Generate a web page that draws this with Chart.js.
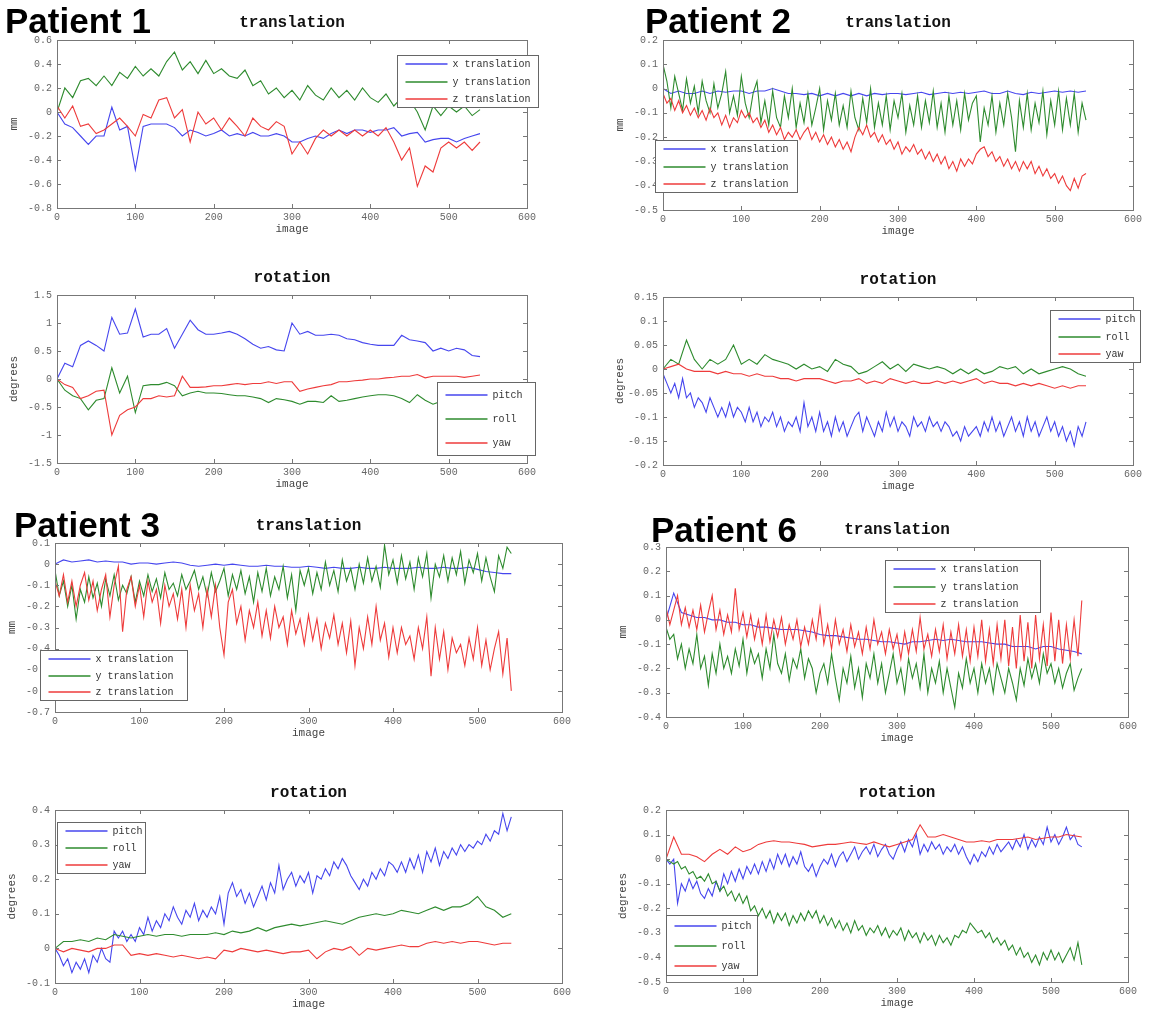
<!DOCTYPE html>
<html lang="en">
<head>
<meta charset="UTF-8" />
<title>Head motion per patient</title>
<script src="https://cdn.jsdelivr.net/npm/chart.js"></script>
<style>
  body { margin: 0; background: #fff; width: 1166px; height: 1014px; position: relative; overflow: hidden; font-family: 'Liberation Sans', Arial, sans-serif; }
  .panel { position: absolute; }
  .patient { position: absolute; font-weight: bold; font-size: 35px; line-height: 35px; color: #000; z-index: 2; white-space: nowrap; }
</style>
</head>
<body>
<div class="patient" style="left:5px;top:3px">Patient 1</div>
<div class="patient" style="left:645px;top:3px">Patient 2</div>
<div class="patient" style="left:14px;top:507px">Patient 3</div>
<div class="patient" style="left:651px;top:512px">Patient 6</div>

<script>
// image index (x axis): every 10 images for the smoother traces, every 5 for the noisy ones
const imageIdx = [0,10,20,30,40,50,60,70,80,90,100,110,120,130,140,150,160,170,180,190,
  200,210,220,230,240,250,260,270,280,290,300,310,320,330,340,350,360,370,380,390,
  400,410,420,430,440,450,460,470,480,490,500,510,520,530,540];
const imageIdx5 = [0,5,10,15,20,25,30,35,40,45,50,55,60,65,70,75,80,85,90,95,
  100,105,110,115,120,125,130,135,140,145,150,155,160,165,170,175,180,185,190,195,
  200,205,210,215,220,225,230,235,240,245,250,255,260,265,270,275,280,285,290,295,
  300,305,310,315,320,325,330,335,340,345,350,355,360,365,370,375,380,385,390,395,
  400,405,410,415,420,425,430,435,440,445,450,455,460,465,470,475,480,485,490,495,
  500,505,510,515,520,525,530,535,540];
const xTicks = [0,100,200,300,400,500,600];
const transLabels = ['x translation','y translation','z translation'];
const rotLabels = ['pitch','roll','yaw'];
const lineColors = ['#4646ee','#2e8b2e','#ee3b3b'];

// ---- Patient 1 ----
const p1TransTicks = [-0.8,-0.6,-0.4,-0.2,0,0.2,0.4,0.6];
const p1TransX = [0,-0.1,-0.13,-0.2,-0.27,-0.2,-0.2,0.04,-0.15,-0.12,
  -0.48,-0.12,-0.1,-0.1,-0.1,-0.13,-0.2,-0.15,-0.17,-0.2,
  -0.18,-0.15,-0.2,-0.18,-0.2,-0.17,-0.2,-0.2,-0.18,-0.2,
  -0.25,-0.25,-0.22,-0.2,-0.22,-0.18,-0.15,-0.18,-0.15,-0.15,
  -0.17,-0.15,-0.15,-0.13,-0.2,-0.18,-0.17,-0.25,-0.23,-0.22,
  -0.22,-0.25,-0.22,-0.2,-0.18];
const p1TransY = [0,0.2,0.12,0.26,0.28,0.22,0.3,0.22,0.33,0.28,
  0.38,0.3,0.36,0.3,0.42,0.5,0.35,0.42,0.32,0.43,
  0.32,0.36,0.3,0.28,0.35,0.22,0.26,0.15,0.2,0.12,
  0.18,0.1,0.22,0.14,0.1,0.2,0.12,0.18,0.1,0.2,
  0.12,0.08,0.15,0.05,0.12,0.1,0,-0.15,0.05,-0.03,
  0.05,0,0.05,-0.03,0.02];
const p1TransZ = [0.05,-0.05,0.05,-0.12,-0.1,-0.18,-0.15,-0.1,-0.05,-0.12,
  -0.2,-0.02,-0.05,0.1,0.12,-0.05,0.02,-0.25,0,-0.1,
  -0.05,-0.15,-0.05,-0.12,-0.2,-0.05,-0.12,-0.15,-0.08,-0.12,
  -0.35,-0.25,-0.35,-0.22,-0.15,-0.2,-0.15,-0.2,-0.15,-0.2,
  -0.15,-0.2,-0.13,-0.25,-0.4,-0.3,-0.62,-0.45,-0.5,-0.3,
  -0.25,-0.3,-0.25,-0.32,-0.25];
const p1RotTicks = [-1.5,-1,-0.5,0,0.5,1,1.5];
const p1Pitch = [0,0.28,0.22,0.6,0.68,0.6,0.5,1.1,0.8,0.82,
  1.25,0.75,0.8,0.8,0.9,0.55,0.8,1.05,0.88,0.8,
  0.8,0.82,0.85,0.8,0.72,0.62,0.55,0.58,0.52,0.5,
  1.0,0.8,0.85,0.78,0.78,0.8,0.78,0.72,0.7,0.65,
  0.62,0.6,0.6,0.6,0.78,0.7,0.68,0.65,0.5,0.55,
  0.5,0.55,0.52,0.42,0.4];
const p1Roll = [0,-0.2,-0.3,-0.35,-0.55,-0.38,-0.35,0.2,-0.25,0.05,
  -0.6,-0.12,-0.1,-0.1,-0.06,-0.12,-0.3,-0.25,-0.22,-0.25,
  -0.25,-0.26,-0.28,-0.3,-0.3,-0.32,-0.35,-0.42,-0.35,-0.37,
  -0.4,-0.45,-0.4,-0.4,-0.42,-0.3,-0.4,-0.38,-0.35,-0.32,
  -0.3,-0.28,-0.28,-0.3,-0.35,-0.42,-0.28,-0.38,-0.45,-0.4,
  -0.4,-0.42,-0.4,-0.4,-0.4];
const p1Yaw = [0,-0.1,-0.15,-0.35,-0.3,-0.22,-0.2,-1.0,-0.65,-0.55,
  -0.5,-0.35,-0.35,-0.3,-0.32,-0.3,0.05,-0.15,-0.15,-0.14,
  -0.12,-0.12,-0.1,-0.08,-0.1,-0.08,-0.08,-0.05,-0.08,-0.05,
  -0.05,-0.22,-0.18,-0.15,-0.12,-0.1,-0.05,-0.05,-0.03,-0.02,
  0,0,0.02,0.03,0.05,0.05,0.08,0.02,0.05,0.05,
  0.05,0.05,0.03,0.05,0.07];

// ---- Patient 2 ----
const p2TransTicks = [-0.5,-0.4,-0.3,-0.2,-0.1,0,0.1,0.2];
const p2TransX = [0,-0.02,-0.01,-0.02,-0.02,-0.01,-0.02,-0.01,-0.015,-0.01,
  -0.01,-0.02,-0.01,-0.01,0,-0.01,-0.02,-0.02,-0.025,-0.02,
  -0.03,-0.02,-0.03,-0.02,-0.03,-0.02,-0.03,-0.02,-0.025,-0.02,
  -0.02,-0.025,-0.02,-0.015,-0.025,-0.02,-0.015,-0.02,-0.015,-0.02,
  -0.015,-0.01,-0.02,-0.02,-0.01,-0.02,-0.025,-0.015,-0.02,-0.015,
  -0.01,-0.015,-0.01,-0.015,-0.01];
const p2TransY = [0.1,0.03,-0.08,0.05,-0.02,-0.09,0.04,-0.06,0.01,-0.1,
  0.03,-0.05,-0.1,0.02,-0.08,-0.02,0.07,-0.1,-0.03,-0.11,
  0.05,-0.06,-0.12,-0.02,0.03,-0.14,-0.05,-0.15,-0.01,-0.12,
  -0.16,-0.03,-0.12,0,-0.16,-0.06,-0.14,-0.02,-0.15,-0.08,
  0,-0.17,-0.05,-0.13,-0.02,-0.15,-0.07,-0.16,-0.01,-0.12,
  -0.17,-0.04,-0.14,0,-0.16,-0.06,-0.15,-0.03,-0.17,-0.05,
  -0.12,-0.02,-0.18,-0.07,-0.15,-0.03,-0.16,-0.05,-0.14,-0.01,
  -0.16,-0.06,-0.18,-0.03,-0.15,-0.05,-0.17,-0.02,-0.13,-0.06,
  -0.03,-0.22,-0.08,-0.15,-0.03,-0.18,-0.06,-0.15,-0.02,-0.12,
  -0.26,-0.05,-0.16,-0.02,-0.17,-0.06,-0.14,-0.01,-0.19,-0.05,
  -0.15,-0.01,-0.17,-0.04,-0.15,-0.02,-0.18,-0.06,-0.13];
const p2TransZ = [-0.02,-0.06,-0.04,-0.09,-0.05,-0.1,-0.07,-0.11,-0.08,-0.12,
  -0.09,-0.13,-0.08,-0.12,-0.1,-0.15,-0.11,-0.16,-0.12,-0.14,
  -0.09,-0.12,-0.1,-0.14,-0.12,-0.16,-0.13,-0.18,-0.15,-0.19,
  -0.16,-0.21,-0.18,-0.2,-0.17,-0.21,-0.18,-0.16,-0.21,-0.18,
  -0.22,-0.19,-0.23,-0.2,-0.24,-0.21,-0.25,-0.22,-0.26,-0.2,
  -0.16,-0.19,-0.15,-0.2,-0.18,-0.22,-0.19,-0.23,-0.21,-0.25,
  -0.22,-0.27,-0.24,-0.26,-0.23,-0.27,-0.25,-0.29,-0.26,-0.3,
  -0.27,-0.31,-0.28,-0.33,-0.3,-0.34,-0.29,-0.32,-0.29,-0.31,
  -0.27,-0.25,-0.24,-0.28,-0.26,-0.3,-0.28,-0.32,-0.29,-0.33,
  -0.3,-0.34,-0.3,-0.33,-0.3,-0.35,-0.32,-0.36,-0.33,-0.37,
  -0.35,-0.39,-0.36,-0.4,-0.42,-0.37,-0.41,-0.36,-0.35];
const p2RotTicks = [-0.2,-0.15,-0.1,-0.05,0,0.05,0.1,0.15];
const p2Pitch = [-0.01,-0.03,-0.05,-0.03,-0.06,-0.02,-0.06,-0.05,-0.08,-0.06,
  -0.07,-0.09,-0.06,-0.08,-0.1,-0.08,-0.1,-0.07,-0.1,-0.08,
  -0.09,-0.11,-0.08,-0.11,-0.09,-0.12,-0.1,-0.11,-0.09,-0.12,
  -0.1,-0.13,-0.11,-0.12,-0.1,-0.13,-0.07,-0.12,-0.1,-0.13,
  -0.09,-0.13,-0.11,-0.14,-0.1,-0.13,-0.11,-0.14,-0.12,-0.1,
  -0.09,-0.13,-0.1,-0.12,-0.14,-0.11,-0.13,-0.09,-0.12,-0.1,
  -0.13,-0.11,-0.12,-0.14,-0.1,-0.12,-0.11,-0.13,-0.1,-0.12,
  -0.11,-0.13,-0.11,-0.12,-0.14,-0.13,-0.15,-0.12,-0.14,-0.13,
  -0.12,-0.14,-0.11,-0.13,-0.1,-0.13,-0.11,-0.14,-0.12,-0.1,
  -0.13,-0.11,-0.14,-0.1,-0.13,-0.11,-0.14,-0.12,-0.1,-0.13,
  -0.11,-0.14,-0.12,-0.15,-0.13,-0.16,-0.12,-0.14,-0.11];
const p2Roll = [0,0.02,0.01,0.06,0.02,0,0.02,0.01,0.02,0.05,
  0.01,0.02,0.01,0.03,0.02,0.015,0.01,0,0.01,0,
  0.005,-0.005,0.02,0.01,0.005,-0.01,-0.005,0.005,0.015,0,
  0.01,-0.005,0.01,0.005,0,0.005,0,-0.01,0,-0.01,
  0,-0.01,-0.005,0.005,0,0.005,-0.01,0,-0.01,-0.005,
  0,0.005,0,-0.01,-0.015];
const p2Yaw = [0,0.005,0.01,0,-0.005,-0.005,-0.005,-0.01,-0.005,-0.01,
  -0.01,-0.015,-0.01,-0.015,-0.015,-0.02,-0.02,-0.025,-0.02,-0.02,
  -0.02,-0.025,-0.03,-0.025,-0.025,-0.02,-0.03,-0.025,-0.03,-0.02,
  -0.025,-0.03,-0.025,-0.03,-0.03,-0.025,-0.03,-0.025,-0.03,-0.025,
  -0.02,-0.03,-0.025,-0.03,-0.03,-0.035,-0.03,-0.035,-0.03,-0.035,
  -0.04,-0.035,-0.04,-0.035,-0.035];

// ---- Patient 3 ----
const p3TransTicks = [-0.7,-0.6,-0.5,-0.4,-0.3,-0.2,-0.1,0,0.1];
const p3TransX = [0,0.02,0.01,0.015,0.02,0.01,0.015,0.01,0.01,0,
  0.005,0.005,0,0.005,0.01,0.005,-0.005,-0.01,-0.005,0,
  -0.005,0,-0.005,-0.01,-0.01,-0.005,-0.01,-0.01,-0.015,-0.015,
  -0.01,-0.015,-0.02,-0.015,-0.02,-0.02,-0.015,-0.02,-0.02,-0.015,
  -0.02,-0.02,-0.02,-0.015,-0.02,-0.02,-0.015,-0.02,-0.02,-0.015,
  -0.025,-0.035,-0.04,-0.045,-0.045];
const p3TransY = [-0.03,-0.15,-0.08,-0.2,-0.1,-0.26,-0.12,-0.18,-0.06,-0.16,
  -0.09,-0.2,-0.07,-0.15,-0.05,-0.17,-0.1,-0.14,-0.06,-0.18,
  -0.08,-0.15,-0.05,-0.13,-0.07,-0.16,-0.04,-0.12,-0.09,-0.15,
  -0.05,-0.12,-0.08,-0.03,-0.12,-0.06,-0.15,-0.04,-0.13,-0.08,
  -0.02,-0.15,-0.05,-0.12,-0.03,-0.14,-0.06,-0.18,-0.04,-0.13,
  -0.02,-0.15,-0.06,-0.12,-0.01,-0.16,-0.05,-0.22,-0.03,-0.1,
  -0.02,-0.14,-0.04,-0.12,0.01,-0.1,-0.03,-0.13,0.02,-0.08,
  -0.02,-0.12,0,-0.09,0.03,-0.08,-0.01,-0.11,0.09,-0.05,
  0.02,-0.09,0.04,-0.07,0.01,-0.12,0.03,-0.06,0.05,-0.16,
  0,-0.06,0.04,-0.08,0.03,-0.05,0.06,-0.09,0.02,-0.04,
  0.05,-0.08,0.03,-0.06,-0.13,0.04,-0.02,0.08,0.05];
const p3TransZ = [-0.08,-0.15,-0.05,-0.18,-0.08,-0.2,-0.1,-0.04,-0.17,-0.08,
  -0.22,-0.12,-0.05,-0.25,-0.1,-0.01,-0.32,-0.12,-0.06,-0.2,
  -0.1,-0.25,-0.08,-0.18,-0.12,-0.28,-0.1,-0.2,-0.14,-0.26,
  -0.12,-0.3,-0.1,-0.22,-0.14,-0.3,-0.12,-0.25,-0.1,-0.3,
  -0.43,-0.18,-0.12,-0.28,-0.2,-0.36,-0.22,-0.3,-0.18,-0.34,
  -0.22,-0.35,-0.2,-0.3,-0.25,-0.38,-0.22,-0.33,-0.26,-0.38,
  -0.24,-0.36,-0.26,-0.4,-0.28,-0.35,-0.24,-0.38,-0.28,-0.42,
  -0.27,-0.48,-0.3,-0.4,-0.25,-0.38,-0.2,-0.36,-0.28,-0.44,
  -0.3,-0.42,-0.3,-0.38,-0.34,-0.45,-0.3,-0.4,-0.25,-0.53,
  -0.3,-0.45,-0.32,-0.5,-0.35,-0.42,-0.38,-0.48,-0.35,-0.45,
  -0.3,-0.48,-0.36,-0.5,-0.4,-0.32,-0.52,-0.35,-0.6];
const p3RotTicks = [-0.1,0,0.1,0.2,0.3,0.4];
const p3Pitch = [0,-0.02,-0.05,-0.03,-0.07,-0.04,-0.06,-0.03,-0.07,-0.02,
  -0.04,0,-0.03,-0.04,0.05,0.03,0.05,0.02,0.04,0.02,
  0.06,0.04,0.09,0.05,0.08,0.06,0.1,0.08,0.12,0.09,
  0.07,0.11,0.09,0.13,0.08,0.11,0.09,0.12,0.1,0.15,
  0.07,0.16,0.19,0.15,0.17,0.13,0.16,0.12,0.15,0.18,
  0.14,0.19,0.16,0.24,0.17,0.2,0.22,0.18,0.21,0.19,
  0.22,0.16,0.21,0.2,0.23,0.21,0.25,0.23,0.26,0.24,
  0.21,0.19,0.17,0.2,0.18,0.22,0.2,0.23,0.21,0.25,
  0.24,0.22,0.25,0.22,0.26,0.23,0.27,0.22,0.28,0.25,
  0.29,0.24,0.28,0.26,0.29,0.27,0.3,0.28,0.3,0.29,
  0.31,0.3,0.33,0.31,0.34,0.33,0.39,0.34,0.38];
const p3Roll = [0,0.02,0.02,0.025,0.02,0.03,0.025,0.04,0.035,0.03,
  0.035,0.04,0.035,0.04,0.04,0.035,0.04,0.04,0.04,0.045,
  0.04,0.05,0.045,0.05,0.06,0.05,0.06,0.065,0.07,0.065,
  0.07,0.075,0.08,0.075,0.07,0.08,0.09,0.095,0.1,0.095,
  0.1,0.11,0.105,0.1,0.11,0.12,0.11,0.12,0.12,0.13,
  0.15,0.12,0.11,0.09,0.1];
const p3Yaw = [0,-0.01,0,-0.005,-0.01,0,0,0.01,0.01,-0.02,
  -0.015,-0.02,-0.015,-0.02,-0.025,-0.02,-0.025,-0.03,-0.025,-0.03,
  -0.005,-0.01,0,-0.005,-0.01,-0.005,-0.01,-0.015,-0.01,-0.01,
  -0.005,-0.03,-0.01,0,-0.005,0.005,-0.02,0,-0.005,0,
  0.005,0.01,0.005,0.005,0.015,0.02,0.015,0.02,0.015,0.02,
  0.02,0.015,0.01,0.015,0.015];

// ---- Patient 6 ----
const p6TransTicks = [-0.4,-0.3,-0.2,-0.1,0,0.1,0.2,0.3];
const p6TransX = [0,0.11,0.03,0.02,0.01,0.01,0,0,-0.01,-0.01,
  -0.02,-0.02,-0.03,-0.03,-0.035,-0.04,-0.04,-0.04,-0.045,-0.05,
  -0.06,-0.065,-0.065,-0.07,-0.075,-0.08,-0.08,-0.085,-0.09,-0.09,
  -0.095,-0.1,-0.09,-0.09,-0.085,-0.08,-0.085,-0.08,-0.085,-0.09,
  -0.09,-0.09,-0.095,-0.1,-0.1,-0.11,-0.11,-0.11,-0.12,-0.11,
  -0.11,-0.12,-0.125,-0.13,-0.14];
const p6TransY = [-0.03,-0.08,-0.06,-0.16,-0.1,-0.2,-0.12,-0.18,-0.06,-0.2,
  -0.15,-0.27,-0.14,-0.22,-0.1,-0.2,-0.15,-0.22,-0.12,-0.19,
  -0.08,-0.22,-0.12,-0.18,-0.14,-0.24,-0.12,-0.2,-0.06,-0.18,
  -0.22,-0.14,-0.25,-0.16,-0.2,-0.12,-0.24,-0.16,-0.2,-0.3,
  -0.22,-0.18,-0.26,-0.14,-0.24,-0.33,-0.2,-0.26,-0.15,-0.28,
  -0.2,-0.32,-0.18,-0.24,-0.14,-0.26,-0.18,-0.3,-0.22,-0.14,
  -0.26,-0.2,-0.3,-0.16,-0.24,-0.18,-0.28,-0.14,-0.3,-0.2,
  -0.26,-0.17,-0.3,-0.2,-0.28,-0.36,-0.22,-0.28,-0.16,-0.26,
  -0.2,-0.3,-0.18,-0.26,-0.2,-0.3,-0.18,-0.24,-0.3,-0.2,
  -0.26,-0.33,-0.2,-0.27,-0.16,-0.24,-0.18,-0.26,-0.14,-0.22,
  -0.18,-0.26,-0.2,-0.28,-0.22,-0.18,-0.29,-0.24,-0.2];
const p6TransZ = [0.05,-0.02,0.04,0.1,-0.02,0.05,-0.03,0.04,-0.04,0.06,
  -0.05,0.03,0.1,-0.04,0.04,-0.06,0.02,-0.05,0.13,-0.04,
  0.03,-0.07,0.02,-0.08,0,-0.1,0.02,-0.09,0,-0.07,
  0.01,-0.1,-0.02,-0.08,0,-0.11,-0.03,-0.1,0,-0.08,
  0.05,-0.1,-0.02,-0.12,0,-0.1,-0.04,-0.13,-0.02,-0.11,
  -0.05,-0.14,-0.03,-0.12,0,-0.1,-0.05,-0.14,-0.04,-0.12,
  -0.06,-0.16,-0.05,-0.14,-0.04,-0.13,0.01,-0.12,-0.06,-0.15,
  -0.04,-0.13,-0.02,-0.16,-0.05,-0.14,-0.02,-0.15,-0.04,-0.17,
  -0.03,-0.15,0,-0.17,-0.04,-0.18,-0.02,-0.16,0,-0.19,
  -0.03,-0.2,0.02,-0.17,-0.01,-0.2,0.02,-0.16,-0.02,-0.19,
  0.03,-0.17,0,-0.18,-0.02,-0.16,0,-0.15,0.08];
const p6RotTicks = [-0.5,-0.4,-0.3,-0.2,-0.1,0,0.1,0.2];
const p6Pitch = [0,-0.02,0,-0.18,-0.1,-0.13,-0.08,-0.12,-0.09,-0.14,
  -0.16,-0.12,-0.15,-0.09,-0.13,-0.06,-0.1,-0.05,-0.09,-0.04,
  -0.08,-0.03,-0.06,-0.02,-0.06,-0.01,-0.05,0,-0.04,0.02,
  -0.02,0.02,-0.03,0.01,-0.02,0.03,-0.03,-0.05,-0.02,-0.07,
  -0.03,0,-0.02,0.02,-0.03,0.01,0.03,-0.01,0.02,0.05,
  0,0.03,0.05,0.02,0.06,0.01,0.04,0.06,0.02,0,
  0.04,0.07,0.03,0.08,0.05,0.1,0.02,0.06,0.03,0.07,
  0.04,0.06,0.02,0.05,0.03,0.06,0.02,0.05,0.01,-0.02,
  0.02,-0.01,0.03,0.01,0.05,0.02,0.06,0.03,0.05,0.07,
  0.04,0.08,0.05,0.1,0.04,0.08,0.05,0.09,0.06,0.13,
  0.07,0.1,0.06,0.09,0.13,0.08,0.1,0.06,0.05];
const p6Roll = [0,-0.01,-0.02,-0.01,-0.04,-0.03,-0.06,-0.05,-0.08,-0.07,
  -0.09,-0.06,-0.1,-0.09,-0.13,-0.11,-0.15,-0.13,-0.17,-0.14,
  -0.18,-0.15,-0.21,-0.19,-0.23,-0.2,-0.24,-0.21,-0.26,-0.22,
  -0.25,-0.22,-0.27,-0.23,-0.26,-0.22,-0.25,-0.21,-0.24,-0.21,
  -0.26,-0.23,-0.27,-0.24,-0.28,-0.25,-0.29,-0.26,-0.3,-0.25,
  -0.29,-0.27,-0.31,-0.28,-0.3,-0.27,-0.31,-0.28,-0.32,-0.29,
  -0.31,-0.28,-0.33,-0.29,-0.32,-0.3,-0.34,-0.3,-0.33,-0.31,
  -0.35,-0.31,-0.34,-0.32,-0.35,-0.31,-0.32,-0.29,-0.3,-0.26,
  -0.28,-0.3,-0.29,-0.32,-0.3,-0.34,-0.32,-0.35,-0.33,-0.37,
  -0.35,-0.39,-0.36,-0.4,-0.38,-0.42,-0.39,-0.43,-0.38,-0.41,
  -0.37,-0.41,-0.38,-0.42,-0.39,-0.36,-0.41,-0.34,-0.43];
const p6Yaw = [0,0.09,0.02,0.02,0.01,-0.01,0.02,0.04,0.02,0.05,
  0.03,0.04,0.06,0.07,0.075,0.07,0.07,0.065,0.06,0.05,
  0.055,0.06,0.06,0.065,0.07,0.065,0.06,0.07,0.06,0.05,
  0.06,0.07,0.08,0.14,0.09,0.09,0.1,0.09,0.08,0.07,
  0.07,0.075,0.07,0.08,0.08,0.08,0.085,0.09,0.08,0.085,
  0.09,0.09,0.1,0.095,0.09];

// page placement of each subplot (plot box + legend box); series = [x array, y array]
const panels = [
  { title: 'translation', yTitle: 'mm', yTicks: p1TransTicks, labels: transLabels,
    series: [[imageIdx, p1TransX], [imageIdx, p1TransY], [imageIdx, p1TransZ]],
    plot: { l: 57, t: 40, r: 527, b: 208 }, legend: { x: 397, y: 55, w: 141, h: 52 } },
  { title: 'rotation', yTitle: 'degrees', yTicks: p1RotTicks, labels: rotLabels,
    series: [[imageIdx, p1Pitch], [imageIdx, p1Roll], [imageIdx, p1Yaw]],
    plot: { l: 57, t: 295, r: 527, b: 463 }, legend: { x: 437, y: 382, w: 98, h: 73 } },
  { title: 'translation', yTitle: 'mm', yTicks: p2TransTicks, labels: transLabels,
    series: [[imageIdx, p2TransX], [imageIdx5, p2TransY], [imageIdx5, p2TransZ]],
    plot: { l: 663, t: 40, r: 1133, b: 210 }, legend: { x: 655, y: 140, w: 142, h: 52 } },
  { title: 'rotation', yTitle: 'degrees', yTicks: p2RotTicks, labels: rotLabels,
    series: [[imageIdx5, p2Pitch], [imageIdx, p2Roll], [imageIdx, p2Yaw]],
    plot: { l: 663, t: 297, r: 1133, b: 465 }, legend: { x: 1050, y: 310, w: 90, h: 52 } },
  { title: 'translation', yTitle: 'mm', yTicks: p3TransTicks, labels: transLabels,
    series: [[imageIdx, p3TransX], [imageIdx5, p3TransY], [imageIdx5, p3TransZ]],
    plot: { l: 55, t: 543, r: 562, b: 712 }, legend: { x: 40, y: 650, w: 147, h: 50 } },
  { title: 'rotation', yTitle: 'degrees', yTicks: p3RotTicks, labels: rotLabels,
    series: [[imageIdx5, p3Pitch], [imageIdx, p3Roll], [imageIdx, p3Yaw]],
    plot: { l: 55, t: 810, r: 562, b: 983 }, legend: { x: 57, y: 822, w: 88, h: 51 } },
  { title: 'translation', yTitle: 'mm', yTicks: p6TransTicks, labels: transLabels,
    series: [[imageIdx, p6TransX], [imageIdx5, p6TransY], [imageIdx5, p6TransZ]],
    plot: { l: 666, t: 547, r: 1128, b: 717 }, legend: { x: 885, y: 560, w: 155, h: 52 } },
  { title: 'rotation', yTitle: 'degrees', yTicks: p6RotTicks, labels: rotLabels,
    series: [[imageIdx5, p6Pitch], [imageIdx5, p6Roll], [imageIdx, p6Yaw]],
    plot: { l: 666, t: 810, r: 1128, b: 982 }, legend: { x: 666, y: 915, w: 91, h: 60 } }
];

const PAD_L = 50, PAD_T = 30, PAD_R = 20, PAD_B = 28;
const MONO = '"Liberation Mono", "DejaVu Sans Mono", monospace';

// matlab style box, inward ticks, title and boxed legend
const matlabFrame = {
  id: 'matlabFrame',
  afterDraw(chart, args, opts) {
    const { ctx, chartArea: a, scales: { x, y } } = chart;
    ctx.save();
    ctx.strokeStyle = '#777';
    ctx.lineWidth = 1;
    ctx.strokeRect(Math.round(a.left) + 0.5, Math.round(a.top) + 0.5,
      Math.round(a.right - a.left), Math.round(a.bottom - a.top));
    ctx.beginPath();
    x.ticks.forEach(t => {
      const px = Math.round(x.getPixelForValue(t.value)) + 0.5;
      ctx.moveTo(px, a.bottom); ctx.lineTo(px, a.bottom - 4);
      ctx.moveTo(px, a.top); ctx.lineTo(px, a.top + 4);
    });
    y.ticks.forEach(t => {
      const py = Math.round(y.getPixelForValue(t.value)) + 0.5;
      ctx.moveTo(a.left, py); ctx.lineTo(a.left + 4, py);
      ctx.moveTo(a.right, py); ctx.lineTo(a.right - 4, py);
    });
    ctx.stroke();

    ctx.fillStyle = '#111';
    ctx.font = 'bold 16px ' + MONO;
    ctx.textAlign = 'center';
    ctx.textBaseline = 'middle';
    ctx.fillText(opts.title, (a.left + a.right) / 2, a.top - 17);

    const L = opts.legend;
    const lx = Math.round(L.x - opts.origin.x) + 0.5, ly = Math.round(L.y - opts.origin.y) + 0.5;
    ctx.fillStyle = '#fff';
    ctx.fillRect(lx, ly, L.w, L.h);
    ctx.strokeStyle = '#666';
    ctx.strokeRect(lx, ly, L.w, L.h);
    const rowH = L.h / 3;
    ctx.font = '10px ' + MONO;
    ctx.textAlign = 'left';
    opts.labels.forEach((label, i) => {
      const cy = Math.round(ly + rowH * (i + 0.5));
      ctx.strokeStyle = lineColors[i];
      ctx.lineWidth = 1.3;
      ctx.beginPath();
      ctx.moveTo(lx + 8, cy); ctx.lineTo(lx + 50, cy);
      ctx.stroke();
      ctx.fillStyle = '#333';
      ctx.fillText(label, lx + 55, cy);
    });
    ctx.restore();
  }
};

function makeChart(p) {
  const w = p.plot.r - p.plot.l, h = p.plot.b - p.plot.t;
  const left = p.plot.l - PAD_L, top = p.plot.t - PAD_T;
  const wrap = document.createElement('div');
  wrap.className = 'panel';
  wrap.style.left = left + 'px';
  wrap.style.top = top + 'px';
  const cv = document.createElement('canvas');
  cv.width = w + PAD_L + PAD_R;
  cv.height = h + PAD_T + PAD_B;
  wrap.appendChild(cv);
  document.body.appendChild(wrap);

  new Chart(cv, {
    type: 'line',
    data: {
      // later series drawn on top, as in the original plots
      datasets: p.series.map(([xs, ys], i) => ({
        label: p.labels[i],
        data: xs.map((x, k) => ({ x: x, y: ys[k] })),
        borderColor: lineColors[i],
        borderWidth: 1.1,
        pointRadius: 0,
        tension: 0,
        fill: false,
        order: -i
      }))
    },
    options: {
      responsive: false,
      animation: false,
      layout: { padding: { left: 0, top: PAD_T, right: PAD_R, bottom: 0 } },
      plugins: {
        legend: { display: false },
        tooltip: { enabled: false },
        matlabFrame: { title: p.title, legend: p.legend, labels: p.labels, origin: { x: left, y: top } }
      },
      scales: {
        x: {
          type: 'linear', min: 0, max: 600,
          afterBuildTicks: s => { s.ticks = xTicks.map(v => ({ value: v })); },
          afterFit: s => { s.height = PAD_B; },
          grid: { display: false, drawTicks: false, tickLength: 0 }, border: { display: false },
          ticks: { font: { family: MONO, size: 10 }, color: '#666', padding: 3, maxRotation: 0, autoSkip: false },
          title: { display: true, text: 'image', font: { family: MONO, size: 11 }, color: '#444', padding: 0 }
        },
        y: {
          min: p.yTicks[0], max: p.yTicks[p.yTicks.length - 1],
          afterBuildTicks: s => { s.ticks = p.yTicks.map(v => ({ value: v })); },
          afterFit: s => { s.width = PAD_L; },
          grid: { display: false, drawTicks: false, tickLength: 0 }, border: { display: false },
          ticks: { font: { family: MONO, size: 10 }, color: '#666', padding: 5, autoSkip: false,
            callback: v => String(Math.round(v * 1000) / 1000) },
          title: { display: true, text: p.yTitle, font: { family: MONO, size: 11 }, color: '#444', padding: 0 }
        }
      }
    },
    plugins: [matlabFrame]
  });
}

panels.forEach(makeChart);
</script>
</body>
</html>
